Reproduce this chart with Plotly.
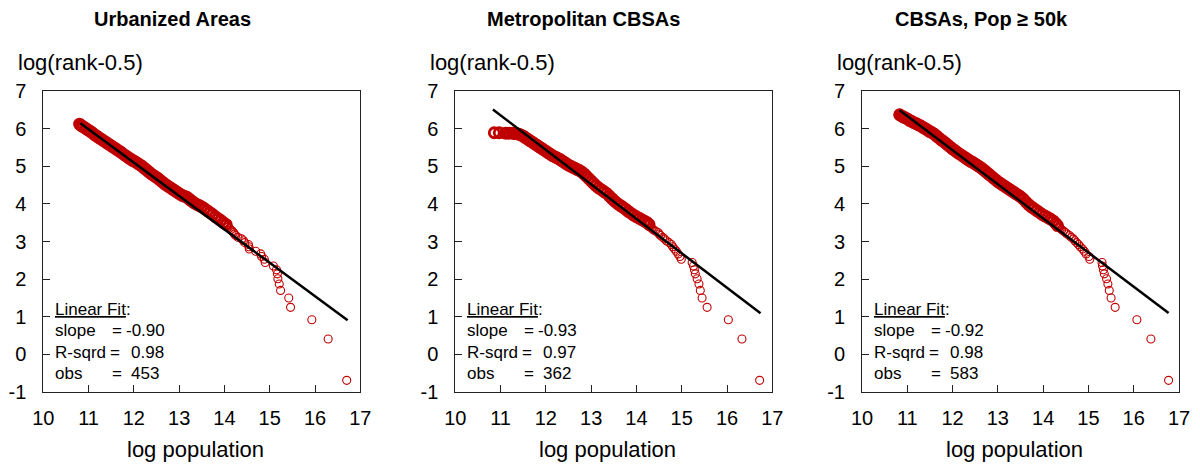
import plotly.graph_objects as go

# ---------------- data ----------------
titles = ["Urbanized Areas", "Metropolitan CBSAs", "CBSAs, Pop \u2265 50k"]
y_label = "log(rank-0.5)"
x_label = "log population"
x_ticks = [10, 11, 12, 13, 14, 15, 16, 17]
y_ticks = [-1, 0, 1, 2, 3, 4, 5, 6, 7]

stat_names = ["slope", "R-sqrd", "obs"]
ua_stats = ["-0.90", "0.98", "453"]
metro_stats = ["-0.93", "0.97", "362"]
cbsa_stats = ["-0.92", "0.98", "583"]

ua_x = [10.80, 10.84, 10.88, 10.93, 10.98, 11.03, 11.08, 11.13, 11.18, 11.23, 11.28, 11.33, 11.38, 11.43,
        11.48, 11.53, 11.58, 11.63, 11.68, 11.73, 11.78, 11.83, 11.88, 11.93, 11.98, 12.03, 12.08, 12.13,
        12.18, 12.23, 12.28, 12.33, 12.38, 12.43, 12.48, 12.53, 12.58, 12.63, 12.68, 12.73, 12.78, 12.83,
        12.88, 12.93, 12.98, 13.03, 13.08, 13.13, 13.18, 13.23, 13.28, 13.33, 13.38, 13.44, 13.50, 13.56,
        13.62, 13.68, 13.74, 13.80, 13.86, 13.92, 13.98, 14.04,
        14.08, 14.11, 14.14, 14.17, 14.20, 14.22, 14.25, 14.30, 14.38, 14.42, 14.45, 14.53, 14.54, 14.55,
        14.69, 14.80, 14.82, 14.88, 14.90, 15.08, 15.15, 15.17, 15.18, 15.21, 15.24, 15.42, 15.46, 15.93,
        16.29, 16.70]
ua_y = [6.12, 6.08, 6.05, 6.01, 5.97, 5.93, 5.89, 5.84, 5.80, 5.76, 5.72, 5.68, 5.64, 5.60,
        5.56, 5.52, 5.48, 5.44, 5.40, 5.36, 5.31, 5.27, 5.23, 5.19, 5.15, 5.12, 5.08, 5.04,
        5.00, 4.95, 4.90, 4.85, 4.80, 4.76, 4.72, 4.68, 4.63, 4.58, 4.53, 4.49, 4.45, 4.41,
        4.37, 4.33, 4.29, 4.25, 4.22, 4.20, 4.17, 4.12, 4.07, 4.03, 3.99, 3.96, 3.92, 3.87,
        3.82, 3.77, 3.72, 3.66, 3.61, 3.56, 3.50, 3.45,
        3.38, 3.35, 3.31, 3.28, 3.24, 3.20, 3.16, 3.11, 3.07, 3.02, 2.97, 2.92, 2.86, 2.80,
        2.74, 2.67, 2.60, 2.53, 2.44, 2.35, 2.25, 2.14, 2.01, 1.87, 1.70, 1.50, 1.25, 0.92,
        0.41, -0.69]

metro_x = [10.86, 10.97, 11.11, 11.15, 11.20, 11.26, 11.30, 11.35, 11.40, 11.45, 11.50, 11.55, 11.60,
           11.65, 11.70, 11.75, 11.80, 11.85, 11.90, 11.95, 12.00, 12.05, 12.10, 12.15, 12.20, 12.25,
           12.30, 12.35, 12.40, 12.45, 12.50, 12.55, 12.60, 12.65, 12.70, 12.75, 12.80, 12.85, 12.90,
           12.95, 13.00, 13.05, 13.10, 13.16, 13.22, 13.28, 13.34, 13.40, 13.46, 13.52, 13.58, 13.64,
           13.70, 13.76, 13.82, 13.88, 13.94, 14.00, 14.06, 14.12, 14.18, 14.24, 14.28,
           14.31, 14.34, 14.37, 14.42, 14.48, 14.50, 14.53, 14.58, 14.62, 14.66, 14.72, 14.77, 14.80,
           14.84, 14.88, 14.92, 14.96, 14.99, 15.23, 15.26, 15.28, 15.30, 15.34, 15.38, 15.41, 15.45,
           15.56, 16.03, 16.33, 16.72]
metro_y = [5.89, 5.89, 5.88, 5.88, 5.88, 5.88, 5.87, 5.87, 5.85, 5.83, 5.80, 5.76, 5.72,
           5.68, 5.64, 5.60, 5.56, 5.52, 5.48, 5.44, 5.40, 5.36, 5.32, 5.28, 5.25, 5.22,
           5.19, 5.15, 5.11, 5.07, 5.03, 5.00, 4.97, 4.94, 4.91, 4.88, 4.84, 4.79, 4.73,
           4.67, 4.61, 4.55, 4.49, 4.43, 4.38, 4.33, 4.28, 4.21, 4.14, 4.07, 4.01, 3.96,
           3.91, 3.86, 3.80, 3.75, 3.70, 3.66, 3.62, 3.58, 3.54, 3.50, 3.45,
           3.38, 3.35, 3.31, 3.28, 3.24, 3.20, 3.16, 3.11, 3.07, 3.02, 2.97, 2.92, 2.86,
           2.80, 2.74, 2.67, 2.60, 2.53, 2.44, 2.35, 2.25, 2.14, 2.01, 1.87, 1.70, 1.50,
           1.25, 0.92, 0.41, -0.69]

cbsa_x = [10.83, 10.87, 10.91, 10.95, 11.00, 11.05, 11.10, 11.15, 11.20, 11.25, 11.30, 11.35, 11.40,
          11.45, 11.50, 11.55, 11.60, 11.65, 11.70, 11.75, 11.80, 11.85, 11.90, 11.95, 12.00, 12.05,
          12.10, 12.15, 12.20, 12.25, 12.30, 12.35, 12.40, 12.45, 12.50, 12.55, 12.60, 12.65, 12.70,
          12.75, 12.80, 12.85, 12.90, 12.95, 13.00, 13.05, 13.10, 13.15, 13.20, 13.25, 13.30, 13.35,
          13.40, 13.45, 13.50, 13.56, 13.62, 13.68, 13.74, 13.80, 13.86, 13.92, 13.98, 14.04, 14.10,
          14.16, 14.22, 14.28, 14.32,
          14.36, 14.38, 14.41, 14.45, 14.49, 14.53, 14.58, 14.62, 14.67, 14.70, 14.74, 14.78, 14.82,
          14.87, 14.91, 14.95, 15.01, 15.03, 15.30, 15.31, 15.33, 15.35, 15.40, 15.43, 15.46, 15.50,
          15.59, 16.07, 16.38, 16.77]
cbsa_y = [6.37, 6.34, 6.31, 6.29, 6.26, 6.22, 6.19, 6.16, 6.13, 6.10, 6.07, 6.03, 6.00,
          5.96, 5.92, 5.89, 5.85, 5.80, 5.75, 5.70, 5.66, 5.61, 5.56, 5.51, 5.46, 5.42,
          5.37, 5.33, 5.29, 5.25, 5.21, 5.17, 5.13, 5.10, 5.06, 5.02, 4.98, 4.94, 4.89,
          4.84, 4.79, 4.74, 4.69, 4.64, 4.59, 4.55, 4.51, 4.47, 4.43, 4.39, 4.35, 4.31,
          4.27, 4.23, 4.19, 4.13, 4.05, 3.98, 3.92, 3.87, 3.82, 3.77, 3.72, 3.68, 3.64,
          3.60, 3.55, 3.48, 3.42,
          3.38, 3.35, 3.31, 3.28, 3.24, 3.20, 3.16, 3.11, 3.07, 3.02, 2.97, 2.92, 2.86,
          2.80, 2.74, 2.67, 2.60, 2.53, 2.44, 2.35, 2.25, 2.14, 2.01, 1.87, 1.70, 1.50,
          1.25, 0.92, 0.41, -0.69]

ua_fit_x, ua_fit_y = [10.82, 16.72], [6.14, 0.91]
metro_fit_x, metro_fit_y = [10.83, 16.74], [6.51, 1.09]
cbsa_fit_x, cbsa_fit_y = [10.83, 16.77], [6.49, 1.10]

# ---------------- layout helpers (pixels -> paper) ----------------
W, H = 1200, 466
box_left = [43.3, 455.3, 862.0]
box_width = 317.0
box_top, box_bottom = 91.0, 392.0
title_cx = [172.0, 583.7, 981.0]
N_SPARSE = 30  # largest places drawn as distinct thin circles

def px(x):
    return x / W

def py(y):
    return 1 - y / H

RED = "#c00000"
TXT = "Liberation Sans, Arial, sans-serif"
TITLE_FONT = "Liberation Sans, Arial, sans-serif"

panels = [
    (ua_x, ua_y, ua_fit_x, ua_fit_y, ua_stats),
    (metro_x, metro_y, metro_fit_x, metro_fit_y, metro_stats),
    (cbsa_x, cbsa_y, cbsa_fit_x, cbsa_fit_y, cbsa_stats),
]

fig = go.Figure()
annotations = []
layout_axes = {}

for i, (xs, ys, fx, fy, stats) in enumerate(panels):
    n = "" if i == 0 else str(i + 1)
    xa, ya = "x" + n, "y" + n
    # dense band (many overlapping circles in the original)
    fig.add_trace(go.Scatter(
        x=xs[:-N_SPARSE], y=ys[:-N_SPARSE], mode="markers", xaxis=xa, yaxis=ya, showlegend=False,
        marker=dict(symbol="circle-open", size=10, color=RED, line=dict(width=2.8, color=RED)),
        hoverinfo="skip"))
    # distinct largest places
    fig.add_trace(go.Scatter(
        x=xs[-N_SPARSE:], y=ys[-N_SPARSE:], mode="markers", xaxis=xa, yaxis=ya, showlegend=False,
        marker=dict(symbol="circle-open", size=8, color=RED, line=dict(width=1.1, color=RED)),
        hoverinfo="skip"))
    fig.add_trace(go.Scatter(
        x=fx, y=fy, mode="lines", xaxis=xa, yaxis=ya, showlegend=False,
        line=dict(color="black", width=2.5), hoverinfo="skip"))

    L = box_left[i]
    axis_common = dict(showline=True, mirror=True, linecolor="#222", linewidth=1,
                       ticks="inside", ticklen=7, tickcolor="#222", tickwidth=1,
                       showgrid=False, zeroline=False, automargin=False,
                       tickfont=dict(family=TXT, size=20, color="black"))
    layout_axes["xaxis" + n] = dict(
        domain=[px(L), px(L + box_width)], range=[10, 17], anchor=ya,
        tickmode="array", tickvals=x_ticks, ticktext=[str(t) for t in x_ticks],
        ticklabelstandoff=8, **axis_common)
    layout_axes["yaxis" + n] = dict(
        domain=[py(box_bottom), py(box_top)], range=[-1, 7], anchor=xa,
        tickmode="array", tickvals=y_ticks, ticktext=[str(t) for t in y_ticks],
        ticklabelstandoff=12, **axis_common)

    # title
    annotations.append(dict(text="<b>" + titles[i] + "</b>", x=px(title_cx[i]), y=py(19),
                            xref="paper", yref="paper", xanchor="center", yanchor="middle",
                            showarrow=False, font=dict(family=TITLE_FONT, size=20, color="black")))
    # y label
    annotations.append(dict(text=y_label, x=px(L - 27), y=py(62), xref="paper", yref="paper",
                            xanchor="left", yanchor="middle", showarrow=False,
                            font=dict(family=TXT, size=22, color="black")))
    # x label
    annotations.append(dict(text=x_label, x=px(L + 152), y=py(449), xref="paper", yref="paper",
                            xanchor="center", yanchor="middle", showarrow=False,
                            font=dict(family=TXT, size=22, color="black")))
    # stats box
    f = dict(family=TXT, size=17, color="black")
    annotations.append(dict(text="<u>Linear Fit</u>:", x=px(L + 10), y=py(309), xref="paper",
                            yref="paper", xanchor="left", yanchor="middle", showarrow=False, font=f))
    rows_y = [330, 352, 373]
    eq_x = [69, 67, 69]
    val_x = [83, 88, 88]
    for r in range(3):
        annotations.append(dict(text=stat_names[r], x=px(L + 10), y=py(rows_y[r]), xref="paper",
                                yref="paper", xanchor="left", yanchor="middle", showarrow=False, font=f))
        annotations.append(dict(text="=", x=px(L + eq_x[r] - 2), y=py(rows_y[r]), xref="paper",
                                yref="paper", xanchor="left", yanchor="middle", showarrow=False, font=f))
        annotations.append(dict(text=stats[r], x=px(L + val_x[r] - 2), y=py(rows_y[r]), xref="paper",
                                yref="paper", xanchor="left", yanchor="middle", showarrow=False, font=f))

fig.update_layout(template="none", width=W, height=H, margin=dict(l=0, r=0, t=0, b=0),
                  paper_bgcolor="white", plot_bgcolor="white",
                  annotations=annotations, **layout_axes)

fig.write_html("out.html")
